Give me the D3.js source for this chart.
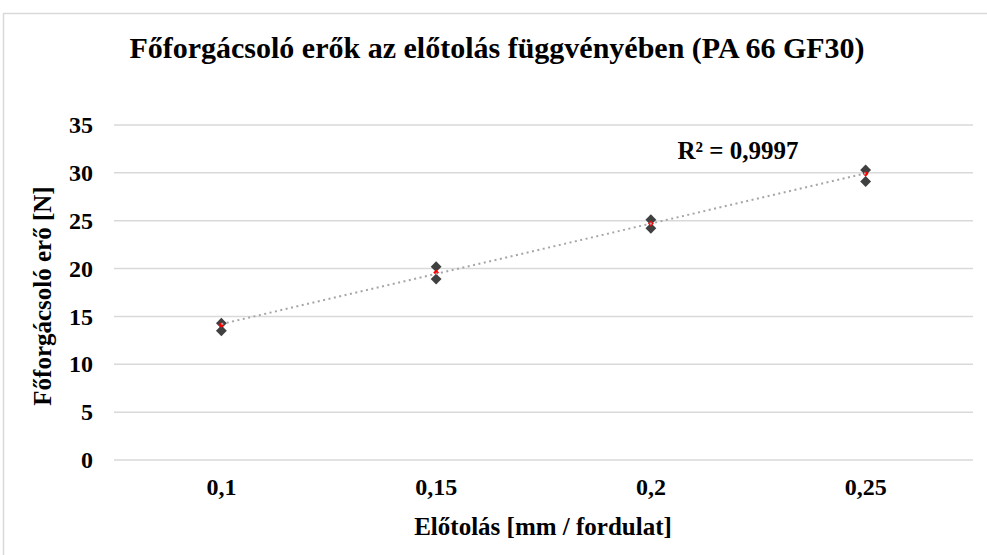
<!DOCTYPE html>
<html>
<head>
<meta charset="utf-8">
<script src="https://cdn.jsdelivr.net/npm/d3@7"></script>
<style>
  html, body { margin: 0; padding: 0; background: #fff; }
  svg { display: block; font-family: "Liberation Serif", "Times New Roman", serif; }
</style>
</head>
<body>
<div id="chart"></div>
<script>
// data
const feeds = ["0,1", "0,15", "0,2", "0,25"];
const forceHigh = [14.3, 20.2, 25.1, 30.3];
const forceLow = [13.5, 18.9, 24.2, 29.1];
const forceMean = [14.1, 19.6, 24.7, 29.9];
const yTicks = [0, 5, 10, 15, 20, 25, 30, 35];
const r2Label = "R² = 0,9997";

const W = 987, H = 555;
const m = { left: 114, right: 14, top: 125, bottom: 95 };

const svg = d3.select("#chart").append("svg")
  .attr("width", W).attr("height", H);

// chart border
svg.append("rect")
  .attr("x", 3.5).attr("y", 13.5)
  .attr("width", W + 10).attr("height", H + 10)
  .attr("fill", "#fff").attr("stroke", "#d9d9d9").attr("stroke-width", 1.5);

const x = d3.scaleBand().domain(feeds).range([m.left, W - m.right]);
const y = d3.scaleLinear().domain([0, 35]).range([H - m.bottom, m.top]);
const cx = d => x(d) + x.bandwidth() / 2;

// gridlines
svg.append("g")
  .selectAll("line")
  .data(yTicks)
  .join("line")
  .attr("x1", m.left).attr("x2", W - m.right)
  .attr("y1", d => y(d)).attr("y2", d => y(d))
  .attr("stroke", "#d9d9d9").attr("stroke-width", 1.5);

// y axis labels
const yAxis = svg.append("g")
  .attr("transform", `translate(${m.left},0)`)
  .call(d3.axisLeft(y).tickValues(yTicks).tickSize(0).tickPadding(21));
yAxis.select(".domain").remove();
yAxis.attr("font-family", null);
yAxis.selectAll("text")
  .attr("font-family", "Liberation Serif").attr("font-weight", "bold")
  .attr("font-size", 24).attr("fill", "#000");

// x axis labels
const xAxis = svg.append("g")
  .attr("transform", `translate(0,${H - m.bottom})`)
  .call(d3.axisBottom(x).tickSize(0).tickPadding(18));
xAxis.select(".domain").remove();
xAxis.attr("font-family", null);
xAxis.selectAll("text")
  .attr("font-family", "Liberation Serif").attr("font-weight", "bold")
  .attr("font-size", 24).attr("fill", "#000");

// markers
const diamond = d3.symbol().type(d3.symbolDiamond2);
const plotSeries = (vals, size, color) => {
  svg.append("g")
    .selectAll("path")
    .data(vals)
    .join("path")
    .attr("d", diamond.size(size)())
    .attr("transform", (d, i) => `translate(${cx(feeds[i])},${y(d)})`)
    .attr("fill", color);
};
plotSeries(forceHigh, 75, "#404040");
plotSeries(forceLow, 75, "#404040");
plotSeries(forceMean, 22, "#ff0000");

// linear trendline through the mean series
const xs = forceMean.map((d, i) => i + 1);
const mx = d3.mean(xs), my = d3.mean(forceMean);
const slope = d3.sum(xs, (v, i) => (v - mx) * (forceMean[i] - my)) / d3.sum(xs, v => (v - mx) ** 2);
const icpt = my - slope * mx;
const xi = d3.scaleLinear().domain([1, feeds.length]).range([cx(feeds[0]), cx(feeds[feeds.length - 1])]);
svg.append("path")
  .datum(xs)
  .attr("d", d3.line().x(v => xi(v)).y(v => y(icpt + slope * v)))
  .attr("fill", "none").attr("stroke", "#a6a6a6")
  .attr("stroke-width", 2).attr("stroke-dasharray", "2,3.5");

// R² label
svg.append("text")
  .attr("x", 738).attr("y", 159)
  .attr("text-anchor", "middle")
  .attr("font-weight", "bold").attr("font-size", 25)
  .text(r2Label);

// title
svg.append("text")
  .attr("x", 497).attr("y", 58)
  .attr("text-anchor", "middle")
  .attr("font-weight", "bold").attr("font-size", 30)
  .text("Főforgácsoló erők az előtolás függvényében (PA 66 GF30)");

// axis titles
svg.append("text")
  .attr("x", 543).attr("y", 535)
  .attr("text-anchor", "middle")
  .attr("font-weight", "bold").attr("font-size", 25)
  .text("Előtolás [mm / fordulat]");

svg.append("text")
  .attr("transform", "translate(51,296) rotate(-90)")
  .attr("text-anchor", "middle")
  .attr("font-weight", "bold").attr("font-size", 25)
  .text("Főforgácsoló erő [N]");
</script>
</body>
</html>
